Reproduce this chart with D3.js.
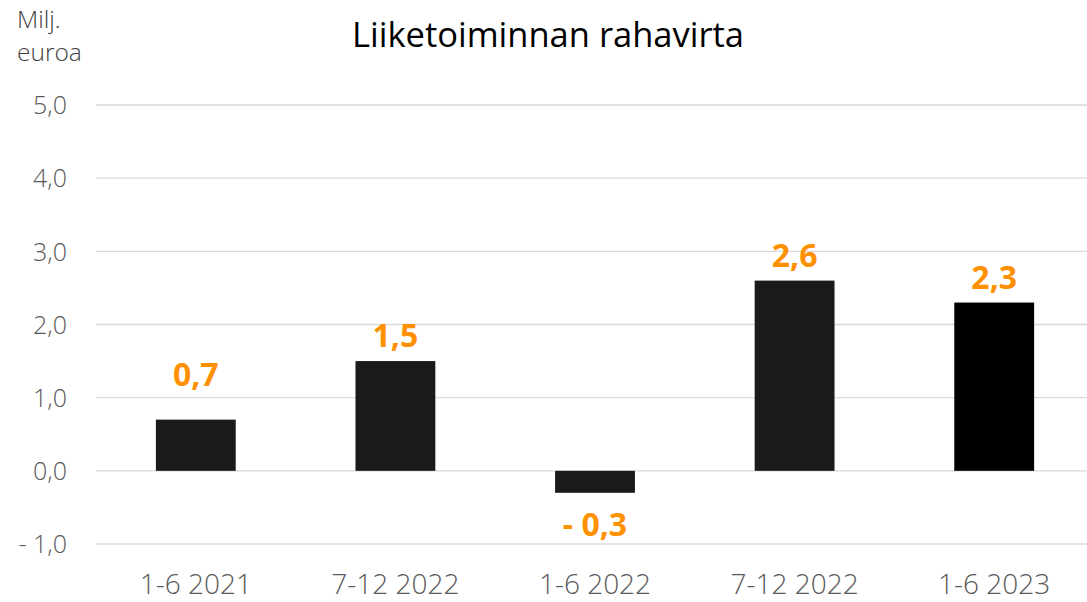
<!DOCTYPE html>
<html><head><meta charset="utf-8">
<script src="https://cdn.jsdelivr.net/npm/d3@7"></script>
<style>body{margin:0;background:#fff}svg{display:block}</style>
</head><body>
<svg id="c" width="1087" height="602"></svg>
<script>
const categories = ["1-6 2021", "7-12 2022", "1-6 2022", "7-12 2022 ", "1-6 2023"];
const values = [0.7, 1.5, -0.3, 2.6, 2.3];
const labels = ["0,7", "1,5", "- 0,3", "2,6", "2,3"];
const yTicks = [-1, 0, 1, 2, 3, 4, 5];
const yTickLabels = ["- 1,0", "0,0", "1,0", "2,0", "3,0", "4,0", "5,0"];
const barColors = ["#1a1a1a", "#1a1a1a", "#1a1a1a", "#1a1a1a", "#000000"];

const svg = d3.select("#c");
const font = "'Open Sans', sans-serif";
const x = d3.scaleBand().domain(categories).range([96, 1094]).paddingInner(0.6).paddingOuter(0.3);
const y = d3.scaleLinear().domain([-1, 5]).range([544, 105]);

// gridlines
svg.append("g").selectAll("line").data(yTicks).join("line")
  .attr("x1", 96).attr("x2", 1087)
  .attr("y1", d => y(d)).attr("y2", d => y(d))
  .attr("stroke", "#d9d9d9").attr("stroke-width", 1.3);

// y axis labels
const yAxis = d3.axisLeft(y).tickValues(yTicks).tickSize(0).tickPadding(0)
  .tickFormat((d, i) => yTickLabels[i]);
const ga = svg.append("g").attr("transform", "translate(67,0)").call(yAxis);
ga.select(".domain").remove();
ga.selectAll("text").attr("font-family", font).attr("font-size", 25).attr("font-weight", 300)
  .attr("fill", "#595959").attr("dy", "0.35em");

// x axis labels
const xAxis = d3.axisBottom(x).tickSize(0).tickPadding(0);
const gx = svg.append("g").attr("transform", "translate(0,594)").call(xAxis);
gx.select(".domain").remove();
gx.selectAll("text").attr("font-family", font).attr("font-size", 28).attr("font-weight", 300)
  .attr("fill", "#595959").attr("y", 0).attr("dy", 0);

// bars
svg.append("g").selectAll("rect").data(values).join("rect")
  .attr("x", (d, i) => x(categories[i]))
  .attr("width", x.bandwidth())
  .attr("y", d => y(Math.max(0, d)))
  .attr("height", d => Math.abs(y(d) - y(0)))
  .attr("fill", (d, i) => barColors[i]);

// data labels
svg.append("g").selectAll("text").data(values).join("text")
  .attr("x", (d, i) => x(categories[i]) + x.bandwidth() / 2)
  .attr("y", (d, i) => d >= 0 ? y(d) - (i === 0 ? 34 : 14) : y(d) + 43)
  .attr("text-anchor", "middle")
  .attr("font-family", font).attr("font-weight", 700).attr("font-size", 32)
  .attr("fill", "#ff9000")
  .text((d, i) => labels[i]);

// title
svg.append("text").attr("x", 548).attr("y", 47).attr("text-anchor", "middle")
  .attr("font-family", font).attr("font-size", 34.5).attr("fill", "#000")
  .text("Liiketoiminnan rahavirta");

// unit label
const u = svg.append("text").attr("font-family", font).attr("font-size", 24.5).attr("font-weight", 300)
  .attr("fill", "#404040");
u.append("tspan").attr("x", 17).attr("y", 28).text("Milj.");
u.append("tspan").attr("x", 17).attr("y", 61).text("euroa");
</script>
</body></html>
